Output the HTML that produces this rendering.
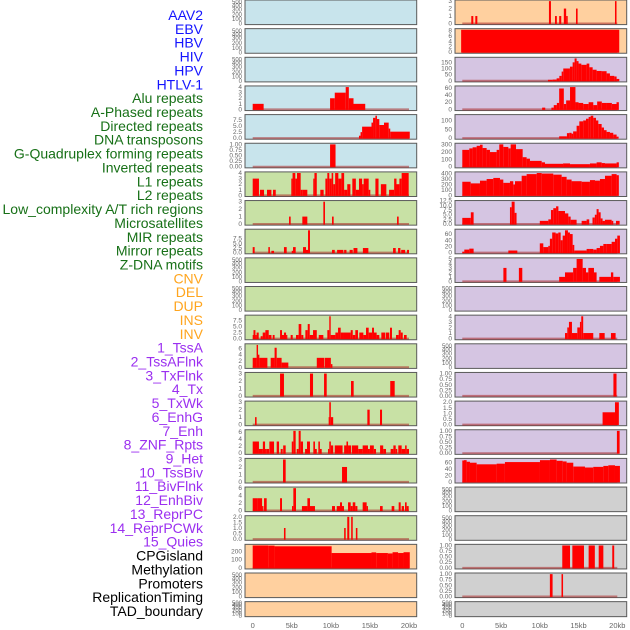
<!DOCTYPE html>
<html><head><meta charset="utf-8">
<style>
html,body{margin:0;padding:0;background:#fff;}
svg{display:block;}
</style></head>
<body>
<svg id="chart" width="630" height="630" xmlns="http://www.w3.org/2000/svg" font-family="Liberation Sans, sans-serif"></svg>
<script>
// ---- labels ----
const labels = ["AAV2","EBV","HBV","HIV","HPV","HTLV-1","Alu repeats","A-Phased repeats","Directed repeats","DNA transposons","G-Quadruplex forming repeats","Inverted repeats","L1 repeats","L2 repeats","Low_complexity A/T rich regions","Microsatellites","MIR repeats","Mirror repeats","Z-DNA motifs","CNV","DEL","DUP","INS","INV","1_TssA","2_TssAFlnk","3_TxFlnk","4_Tx","5_TxWk","6_EnhG","7_Enh","8_ZNF_Rpts","9_Het","10_TssBiv","11_BivFlnk","12_EnhBiv","13_ReprPC","14_ReprPCWk","15_Quies","CPGisland","Methylation","Promoters","ReplicationTiming","TAD_boundary"];
const groups = ["virus","virus","virus","virus","virus","virus","repeat","repeat","repeat","repeat","repeat","repeat","repeat","repeat","repeat","repeat","repeat","repeat","repeat","sv","sv","sv","sv","sv","chrom","chrom","chrom","chrom","chrom","chrom","chrom","chrom","chrom","chrom","chrom","chrom","chrom","chrom","chrom","other","other","other","other","other"];
const xTickValues = [0,5,10,15,20];
const xTickLabels = ["0","5kb","10kb","15kb","20kb"];

// ---- per-panel data: [startKb, endKb, value] ----
const segs_HIV = [[0,1.4,1],[9.9,10.5,2],[10.5,11.9,3],[11.9,12.3,4],[12.3,12.9,2],[12.9,14.4,1]];
const ticks_HIV = ["0","1","2","3","4"];
const segs_HPV = [[13.6,13.8,1],[13.8,14.0,2.5],[14.0,15.2,4.8],[15.2,15.4,6.5],[15.4,15.7,8.5],[15.7,15.9,9.4],[15.9,16.2,8],[16.2,16.8,5.5],[16.8,17.4,6.5],[17.4,17.6,4],[17.6,20.1,2.7]];
const ticks_HPV = ["0.0","2.5","5.0","7.5"];
const segs_HTLV = [[9.9,10.6,1]];
const ticks_HTLV = ["0.00","0.25","0.50","0.75","1.00"];
const segs_Alu = [[0,0.8,3],[0.93,1.45,1],[1.83,2.39,1],[2.6,2.95,1],[4.94,5.1,3],[5.1,5.45,4],[5.45,5.67,3],[5.67,6.14,4],[6.14,6.4,1],[6.4,6.99,1],[7.75,7.9,3],[7.9,8.2,4],[8.65,9.08,1],[9.3,9.55,3],[9.55,9.8,4],[9.8,10.1,3],[10.1,10.3,4],[10.3,10.55,2],[10.55,10.96,4],[10.96,11.35,3],[11.35,11.7,4],[11.7,12.1,1],[12.1,12.5,2],[12.75,13.2,3],[13.2,13.6,1],[13.6,14.0,3],[14.0,14.2,2],[14.2,14.84,3],[14.84,15.05,1],[15.7,16.1,3],[16.4,17.1,2],[17.45,18.1,1],[18.1,18.4,3],[18.4,18.77,2],[18.77,19.06,3],[19.06,19.96,4]];
const ticks_Alu = ["0","1","2","3","4"];
const segs_APhased = [[4.65,4.86,1],[6.35,6.99,1],[9.04,9.25,3],[10.15,10.36,1],[18.47,18.68,1]];
const ticks_APhased = ["0","1","2","3"];
const segs_Directed = [[0,0.25,3],[2.0,2.2,3],[2.39,2.73,1],[4.0,4.35,3],[5.0,5.16,1],[5.16,5.5,3],[6.44,6.82,3],[6.82,7.08,1.5],[7.08,7.33,12],[10.15,10.5,1.5],[10.8,11.6,1.5],[11.7,12.0,1.5],[12.4,12.8,1.5],[12.9,13.4,2.5],[14.1,14.8,2.5],[17.96,18.3,2.5],[18.6,18.9,2.5],[19.0,19.5,1.5],[19.75,20,1.5]];
const ticks_Directed = ["0.0","2.5","5.0","7.5"];
const segs_Inverted = [[0,0.1,1.5],[0.1,0.35,3.5],[0.35,0.5,1.5],[0.5,0.77,2.5],[1.02,1.28,1],[1.28,1.62,2.5],[1.62,2.05,3.5],[2.05,2.4,1.5],[2.56,2.8,1.5],[3.5,3.75,3.5],[3.75,4.0,1.5],[4.0,4.27,2.5],[4.27,4.43,1.5],[4.86,5.12,1.5],[5.54,5.88,1.5],[5.88,6.22,6],[6.22,6.48,1.5],[6.74,7.04,3.5],[7.04,7.3,6],[7.3,7.72,1.5],[7.72,8.2,3.5],[8.45,9.04,1.5],[9.55,9.8,3.5],[9.8,9.98,9.2],[9.98,10.58,1.5],[10.58,10.92,2.5],[10.92,11.26,4.5],[11.26,11.68,2.5],[11.68,12.54,2.5],[12.54,12.8,3.5],[12.8,13.13,1.5],[13.13,13.47,3.5],[13.64,14.16,2.5],[14.16,14.5,1.5],[14.5,14.84,4.5],[14.84,15.27,2.5],[15.27,15.52,4.5],[15.52,15.86,2.5],[15.86,16.2,1.5],[16.46,16.97,2.5],[17.05,17.48,2.5],[17.57,17.82,4.5],[18.34,18.68,1.5],[18.68,18.94,3.5],[18.94,19.2,2.5],[19.36,19.7,1.5]];
const ticks_Inverted = ["0.0","2.5","5.0","7.5"];
const segs_L1 = [[0,0.5,3],[0.5,0.68,7.1],[0.68,0.85,4],[0.85,1.88,3],[2.3,2.8,3],[2.8,3.07,6.2],[3.07,3.7,3],[3.7,4.56,1.5],[8.2,9.13,3],[9.2,10,3],[10,10.2,1]];
const ticks_L1 = ["0","2","4","6"];
const segs_L2 = [[3.5,4.0,3],[7.33,7.72,3],[9.13,9.47,3],[12.58,12.92,2],[17.6,18.17,2]];
const ticks_L2 = ["0","1","2","3"];
const segs_LowComp = [[0.3,0.5,1],[9.72,9.8,1],[9.8,10.0,3],[10.0,10.3,1],[14.67,14.97,2],[16.29,16.55,2]];
const ticks_LowComp = ["0","1","2","3"];
const segs_Microsat = [[0,0.8,3.3],[0.8,1.3,1.2],[1.3,1.58,3.3],[1.58,1.8,1.2],[1.8,2.1,1.2],[2.13,2.73,3.3],[3.07,3.37,3.3],[3.58,3.84,1.2],[3.9,4.22,2.2],[5.0,5.2,3.3],[5.2,5.5,6.3],[5.63,5.88,1.2],[5.88,6.14,6.3],[6.14,6.44,3.3],[6.7,6.95,1.2],[6.95,7.33,3.3],[7.76,7.97,3.3],[7.97,8.2,1.2],[8.4,8.6,3.3],[8.6,8.83,1.2],[9.64,9.8,1.2],[9.8,10.0,3.3],[10.0,10.3,2.2],[10.5,11.5,2.2],[11.7,12.0,2.2],[12.0,12.2,3.3],[12.2,12.6,2.2],[12.7,13.5,2.2],[13.5,14.07,1.2],[14.07,14.75,2.2],[14.75,15.0,1.2],[15.0,15.5,2.2],[15.5,15.78,1.2],[16.3,16.7,2.2],[16.7,17.06,1.2],[17.65,18.0,1.2],[18.0,18.3,2.2],[18.3,18.5,1.2],[18.63,19.06,2.2],[19.06,19.5,1.2],[19.5,19.7,2.2],[19.7,20.0,1.2]];
const ticks_Microsat = ["0","2","4","6"];
const segs_MIR = [[3.88,4.22,3],[11.43,12.07,2]];
const ticks_MIR = ["0","1","2","3"];
const segs_Mirror = [[0,0.6,3.3],[0.6,1.2,3.3],[1.2,1.37,1.2],[1.45,1.79,3.3],[3.5,3.75,3.3],[5.03,5.2,1.2],[5.2,5.54,6],[6.3,7.0,1.2],[7.0,7.33,3.3],[7.33,7.97,1.2],[10.15,10.53,1.2],[10.75,11.17,1.2],[11.17,11.43,2.2],[11.43,11.68,1.2],[12.2,12.54,2.2],[12.54,12.8,1.2],[12.8,13.13,2.2],[13.13,13.4,1.2],[14.07,14.58,2.2],[14.58,14.75,1.2],[16.29,16.63,1.2],[17.78,18.12,1.2],[18.68,18.94,2.2],[19.06,19.36,1.2],[19.49,19.7,2.2],[19.7,19.96,1.2]];
const ticks_Mirror = ["0","2","4","6"];
const segs_ZDNA = [[4.0,4.2,1],[11.7,11.9,1],[12.1,12.36,2],[12.6,12.8,2],[13.2,13.4,1]];
const ticks_ZDNA = ["0.0","0.5","1.0","1.5","2.0"];
const segs_CNV = [[0,2.0,272],[2.0,2.8,270],[2.8,10.1,262],[10.1,15.2,180],[15.2,15.8,188],[15.8,17.3,180],[17.3,17.9,175],[17.9,18.6,190],[18.6,19.3,180],[19.3,20.1,190]];
const ticks_CNV = ["0","100","200"];
const segs_INS = [[1.16,1.42,1],[1.68,1.94,1],[11.18,11.44,3],[11.96,12.2,1],[12.5,12.77,1],[13.1,13.4,2],[13.4,13.6,1],[14.67,14.88,2],[19.7,19.9,3]];
const ticks_INS = ["0","1","2","3"];
const segs_INV = [[-0.15,20.25,8.3]];
const ticks_INV = ["0","2","4","6","8"];
const segs_TssA = [[11.05,11.66,8],[11.66,12.17,10],[12.17,12.52,20],[12.52,12.82,40],[12.82,13.03,75],[13.03,13.89,100],[13.89,14.24,115],[14.24,14.49,150],[14.49,14.75,182],[14.75,15.0,160],[15.0,15.36,140],[15.36,16.04,130],[16.04,16.39,140],[16.39,16.82,110],[16.82,17.33,90],[17.33,17.98,80],[17.98,18.62,78],[18.62,19.05,60],[19.05,19.61,40],[19.61,19.91,35],[19.91,20.26,15]];
const ticks_TssA = ["0","50","100","150"];
const segs_TssAFlnk = [[10.3,10.7,5],[11.5,11.8,5],[11.8,12.2,12],[12.2,12.5,18],[12.5,13.1,58],[13.1,13.4,15],[13.4,13.9,25],[13.9,14.6,62],[14.6,15.0,20],[15.0,15.6,18],[15.6,16.3,15],[16.3,16.9,20],[16.9,17.4,12],[17.4,18.0,22],[18.0,18.6,18],[18.6,19.3,18],[19.3,19.9,15],[19.9,20.2,20]];
const ticks_TssAFlnk = ["0","20","40","60"];
const segs_TxFlnk = [[12.5,13.5,10],[13.5,13.8,28],[13.8,14.1,30],[14.1,14.3,25],[14.3,14.75,38],[14.75,15.1,70],[15.1,15.6,95],[15.6,15.96,100],[15.96,16.3,110],[16.3,16.56,120],[16.56,16.9,127],[16.9,17.25,115],[17.25,17.55,100],[17.55,17.98,80],[17.98,18.28,60],[18.28,18.62,45],[18.62,19.05,35],[19.05,19.48,30],[19.48,19.91,20],[19.91,20.17,8]];
const ticks_TxFlnk = ["0","50","100"];
const segs_Tx = [[0,0.9,230],[0.9,1.33,250],[1.33,1.85,265],[1.85,2.28,285],[2.28,2.62,300],[2.62,3.14,255],[3.14,3.57,230],[3.57,4.43,200],[4.43,4.77,230],[4.77,5.29,305],[5.29,5.94,270],[5.94,6.24,250],[6.24,6.93,305],[6.93,7.79,240],[7.79,8.3,130],[8.3,8.73,110],[8.73,10.24,80],[10.24,10.67,60],[10.67,13.0,40],[13.0,13.9,45],[13.9,16.47,35],[16.47,17.33,45],[17.33,17.98,60],[17.98,18.41,50],[18.41,19.91,45],[19.91,20.2,60]];
const ticks_Tx = ["0","100","200","300"];
const segs_TxWk = [[0,1.08,250],[1.08,2.28,220],[2.28,3.14,270],[3.14,4.0,300],[4.0,4.86,320],[4.86,5.29,290],[5.29,6.15,230],[6.15,6.58,260],[6.58,6.8,200],[6.8,7.66,260],[7.66,8.3,360],[8.3,9.6,390],[9.6,10.24,410],[10.24,11.74,400],[11.74,12.82,380],[12.82,13.46,340],[13.46,14.1,290],[14.1,15.4,260],[15.4,16.47,250],[16.47,17.12,280],[17.12,17.76,270],[17.76,18.41,300],[18.41,19.27,360],[19.27,19.91,390],[19.91,20.2,370]];
const ticks_TxWk = ["0","100","200","300","400"];
const segs_EnhG = [[0,1.1,3.3],[1.1,1.46,6.3],[6.15,6.37,9],[6.37,6.75,12],[6.75,7.0,6],[10.0,11.1,1.7],[11.1,11.44,2.5],[11.44,11.74,7.5],[11.74,12.1,8.5],[12.1,12.4,9.5],[12.4,13.25,7],[13.25,13.68,5.7],[13.68,13.98,4],[13.98,14.75,2.3],[15.4,16.04,1.7],[16.04,16.38,2.5],[16.8,17.1,3.5],[17.1,17.33,5],[17.33,17.59,8],[17.59,17.85,6.3],[17.85,18.1,3],[18.1,18.41,1.7],[18.41,19.27,2.3],[19.27,19.48,1.7],[19.83,20.3,1.7]];
const ticks_EnhG = ["0.0","2.5","5.0","7.5","10.0","12.5"];
const segs_Enh = [[0,0.26,3],[0.26,0.9,10],[0.9,1.46,13],[5.94,7.1,7],[10.0,10.45,30],[10.45,11.1,18],[11.1,11.3,22],[11.3,11.6,45],[11.6,12.04,65],[12.04,12.39,62],[12.39,12.69,65],[12.69,12.95,40],[12.95,13.25,55],[13.25,13.63,72],[13.63,13.89,65],[13.89,14.24,60],[14.24,14.45,25],[14.45,16.04,7],[16.04,16.47,12],[16.47,16.9,12],[16.9,17.33,10],[17.33,17.76,15],[17.76,18.2,22],[18.2,18.63,28],[18.63,19.27,28],[19.27,19.7,35],[19.7,20.0,45],[20.0,20.34,55]];
const ticks_Enh = ["0","20","40","60"];
const segs_ZNF = [[5.3,5.7,3],[7.3,7.74,3],[12.5,13.25,1],[13.25,14.3,2],[14.3,14.75,3],[14.75,15.53,5],[15.53,15.96,3],[15.96,16.26,2],[16.26,16.99,3],[16.99,17.33,2],[17.68,19.18,1],[19.18,19.48,2],[19.48,20.34,1]];
const ticks_ZNF = ["0","1","2","3","4","5"];
const segs_TssBiv = [[13.25,13.55,1],[13.55,13.76,2],[13.76,14.15,3],[14.15,14.84,1],[14.84,15.18,2],[15.18,15.35,3],[15.35,15.6,4],[15.6,16.9,1],[17.68,18.37,1],[19.18,19.78,1]];
const ticks_TssBiv = ["0","1","2","3","4"];
const segs_EnhBiv = [[19.5,19.9,1]];
const ticks_EnhBiv = ["0.00","0.25","0.50","0.75","1.00"];
const segs_ReprPC = [[18.1,19.7,1.1],[19.7,20.2,2]];
const ticks_ReprPC = ["0.0","0.5","1.0","1.5","2.0"];
const segs_ReprPCWk = [[19.95,20.3,1]];
const ticks_ReprPCWk = ["0.00","0.25","0.50","0.75","1.00"];
const segs_Quies = [[0,0.22,67],[0.22,0.56,68],[0.56,0.99,63],[0.99,1.85,60],[1.85,4.43,55],[4.43,5.5,57],[5.5,10.02,62],[10.02,11.31,68],[11.31,12.17,70],[12.17,12.95,66],[12.95,13.46,64],[13.46,14.32,60],[14.32,15.83,48],[15.83,16.9,45],[16.9,18.2,47],[18.2,18.84,50],[18.84,19.7,52],[19.7,20.34,50]];
const ticks_Quies = ["0","20","40","60"];
const segs_Methyl = [[12.9,13.9,1],[14.2,15.7,1],[16.3,17.1,1],[17.6,18.2,1],[19.35,19.6,1]];
const ticks_Methyl = ["0.00","0.25","0.50","0.75","1.00"];
const segs_Promoters = [[11.3,11.65,1],[12.8,13.0,1]];
const ticks_Promoters = ["0.00","0.25","0.50","0.75","1.00"];

const panelSegs = [null,null,null,segs_HIV,segs_HPV,segs_HTLV,segs_Alu,segs_APhased,segs_Directed,null,null,segs_Inverted,segs_L1,segs_L2,segs_LowComp,segs_Microsat,segs_MIR,segs_Mirror,segs_ZDNA,segs_CNV,null,null,
  segs_INS,segs_INV,segs_TssA,segs_TssAFlnk,segs_TxFlnk,segs_Tx,segs_TxWk,segs_EnhG,segs_Enh,segs_ZNF,null,segs_TssBiv,null,segs_EnhBiv,segs_ReprPC,segs_ReprPCWk,segs_Quies,null,null,segs_Methyl,segs_Promoters,null];
const panelTicks = [null,null,null,ticks_HIV,ticks_HPV,ticks_HTLV,ticks_Alu,ticks_APhased,ticks_Directed,null,null,ticks_Inverted,ticks_L1,ticks_L2,ticks_LowComp,ticks_Microsat,ticks_MIR,ticks_Mirror,ticks_ZDNA,ticks_CNV,null,null,
  ticks_INS,ticks_INV,ticks_TssA,ticks_TssAFlnk,ticks_TxFlnk,ticks_Tx,ticks_TxWk,ticks_EnhG,ticks_Enh,ticks_ZNF,null,ticks_TssBiv,null,ticks_EnhBiv,ticks_ReprPC,ticks_ReprPCWk,ticks_Quies,null,null,ticks_Methyl,ticks_Promoters,null];
const emptyTicks = ["0","100","200","300","400","500"];

// ---- drawing ----
const NS = "http://www.w3.org/2000/svg";
const svg = document.getElementById('chart');
function mk(tag, attrs, parent){
  const e = document.createElementNS(NS, tag);
  for (const k in attrs) e.setAttribute(k, attrs[k]);
  (parent||svg).appendChild(e);
  return e;
}
const labelColor = {virus:"#1414ff", repeat:"#177017", sv:"#ffa51e", chrom:"#9b2ff0", other:"#000000"};
const panelFill = {virus:"#c8e4ec", repeat:"#c8e1a5", sv:"#ffd09f", chrom:"#d5c5e2", other:"#d0d0d0"};
const COLS = [{x0:245,x1:416.7,z:252.7,s:7.815},{x0:455,x1:626.7,z:462.3,s:7.75}];
const ROWS = 22, PITCH = 28.65, PH = 24.6;

labels.forEach((t,i)=>{
  const el = mk('text',{x:203,y:(20+i*13.86).toFixed(1),'text-anchor':'end','font-size':'14',fill:labelColor[groups[i]]});
  
  
  el.textContent = t;
});

labels.forEach((t,i)=>{
  const col = Math.floor(i/ROWS), row = i%ROWS;
  const C = COLS[col];
  const top = row*PITCH, h = (row===ROWS-1)?15:PH, bot = top+h;
  const g = mk('g',{});
  
  
  const bg = mk('rect',{x:C.x0,y:top,width:C.x1-C.x0,height:h,fill:panelFill[groups[i]],stroke:'#5a5a5a','stroke-width':1},g);
  
  
  const xs = kb => C.z + kb*C.s;
  const segs = panelSegs[i], ticks = panelTicks[i];
  if (!segs){
    const fr=[0.96,0.78,0.59,0.39,0.23,0.09];
    emptyTicks.forEach((lab,k)=>{
      const tt = mk('text',{x:C.x0-3,y:(top+fr[k]*h+2).toFixed(1),'text-anchor':'end','font-size':'6',fill:'#666'},g);
      
      
      tt.textContent = lab;
    });
    return;
  }
  let maxV = 0; segs.forEach(s=>{ if (s[2]>maxV) maxV=s[2]; });
  const yTop = maxV*1.05, yBot = -maxV*0.05;
  const ys = v => bot - (v - yBot)/(yTop - yBot)*h;
  ticks.forEach(lab=>{
    const v = parseFloat(lab);
    const tt = mk('text',{x:C.x0-3,y:(ys(v)+2).toFixed(1),'text-anchor':'end','font-size':'6.5',fill:'#666'},g);
    
    
    tt.textContent = lab;
  });
  const bl = mk('line',{x1:xs(0),x2:xs(20),y1:ys(0),y2:ys(0),stroke:'rgba(170,40,40,0.55)','stroke-width':2},g);
  
  
  segs.forEach(s=>{
    const y1 = Math.max(top, ys(s[2])), y0 = ys(0);
    const r = mk('rect',{x:xs(s[0]).toFixed(2),y:y1.toFixed(2),width:Math.max(0.8,xs(s[1])-xs(s[0])).toFixed(2),height:(y0-y1+0.5).toFixed(2),fill:'#ff0000'},g);
    
    
  });
});

COLS.forEach((C,ci)=>{
  xTickValues.forEach((v,k)=>{
    const tt = mk('text',{x:(C.z+v*C.s).toFixed(1),y:628,'text-anchor':'middle','font-size':'7.5',fill:'#666'});
    
    
    tt.textContent = xTickLabels[k];
  });
});
</script>
</body></html>
